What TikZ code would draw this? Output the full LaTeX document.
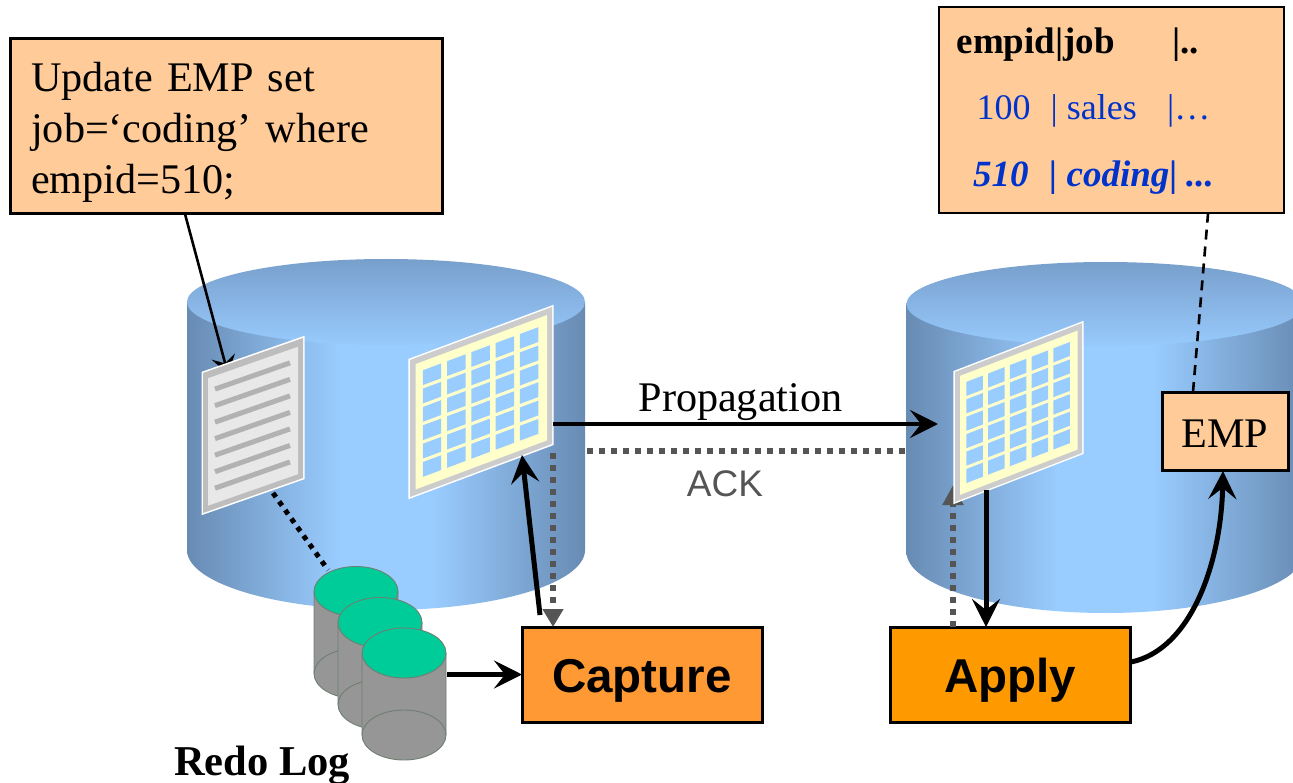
\documentclass[tikz,border=0pt]{standalone}
\usepackage{fontspec}
\setmainfont{Liberation Serif}
\setsansfont{Liberation Sans}
\usetikzlibrary{arrows.meta}
\definecolor{cyledge}{HTML}{688BB3}
\definecolor{cylmid}{HTML}{99CCFF}
\definecolor{captop}{HTML}{789FCC}
\definecolor{peach}{HTML}{FFCC99}
\definecolor{capfill}{HTML}{FF9933}
\definecolor{appfill}{HTML}{FF9900}
\definecolor{tblue}{HTML}{0033CC}
\definecolor{dgrey}{HTML}{555555}
\definecolor{logside}{HTML}{969696}
\definecolor{logtop}{HTML}{00CC99}
\definecolor{logline}{HTML}{6E7F72}
\definecolor{paleyel}{HTML}{FFFFCC}
\pgfdeclarehorizontalshading{cylshade}{100bp}{color(0bp)=(cyledge); color(25bp)=(cyledge); color(44bp)=(cylmid); color(56bp)=(cylmid); color(75bp)=(cyledge); color(100bp)=(cyledge)}
\tikzset{
  boxed/.style={draw=black,line width=3pt,inner sep=0pt,outer sep=0pt},
  serifL/.style={font=\fontsize{42.2}{51}\selectfont},
  tabletxt/.style={anchor=base west,inner sep=0pt,font=\fontsize{36}{40}\selectfont,text=tblue},
  tablebi/.style={tabletxt,font=\fontsize{37}{40}\selectfont\bfseries\itshape},
  tablehd/.style={tabletxt,text=black,font=\fontsize{37}{40}\selectfont\bfseries},
  procbox/.style={boxed,minimum width=240pt,minimum height=95pt,text height=45pt,text depth=10pt,font=\fontsize{47.5}{50}\selectfont\sffamily\bfseries},
  bigarrow/.style={line width=5pt,-{Stealth[length=28pt,width=28pt,inset=11pt]}},
  dotgrey/.style={line width=6pt,draw=dgrey,dash pattern=on 6pt off 6pt},
}
% cylinder drum: centre x, top y, half width, top ry, bottom-edge y, bottom ry
\newcommand{\drum}[6]{%
  \shade[shading=cylshade] (#1-#3,#2) -- (#1-#3,#5) arc[start angle=180,end angle=360,x radius=#3pt,y radius=#6pt] -- (#1+#3,#2) -- cycle;
  \shade[top color=captop,bottom color=cylmid!96!captop] (#1,#2) ellipse[x radius=#3pt,y radius=#4pt];
}
% four-cornered patch in the slanted panel axes
\newcommand{\patch}[5][]{\fill[#1] (#2,#3) -- (#4,#3) -- (#4,#5) -- (#2,#5) -- cycle;}
% perspective grid panel: x y of top left, width, rise, height
\newcommand{\gridpanel}[5]{%
  \begin{scope}[shift={(#1,#2)},x={(#3pt,#4pt)},y={(0pt,-#5pt)}]
    \patch[white]{-0.012}{-0.012}{1.012}{1.012}
    \patch[black!20]{0}{0}{1}{1}
    \patch[paleyel]{0.04}{0.045}{0.965}{0.96}
    \foreach \c in {0,...,4}{\foreach \r in {0,...,5}{
      \pgfmathsetmacro{\ca}{0.09+\c*0.171}
      \pgfmathsetmacro{\cb}{\ca+0.13}
      \pgfmathsetmacro{\ra}{0.11+\r*0.134}
      \pgfmathsetmacro{\rb}{\ra+0.108}
      \patch[cylmid]{\ca}{\ra}{\cb}{\rb}
    }}
  \end{scope}}
% perspective text page
\newcommand{\docpanel}[5]{%
  \begin{scope}[shift={(#1,#2)},x={(#3pt,#4pt)},y={(0pt,-#5pt)}]
    \patch[white]{-0.015}{-0.012}{1.015}{1.012}
    \patch[black!26]{0}{0}{1}{1}
    \patch[black!9]{0.05}{0.05}{0.95}{0.96}
    \foreach \r in {0,...,6}{
      \draw[black!30,line width=5pt] (0.12,{0.145+\r*0.118}) -- (0.87,{0.145+\r*0.118});
    }
  \end{scope}}
% redo log member
\newcommand{\logcyl}[2]{%
  \filldraw[fill=logside,draw=logline,line width=0.9pt] (#1-42,#2) -- (#1-42,#2+82) arc[start angle=180,end angle=360,x radius=42pt,y radius=25pt] -- (#1+42,#2) -- cycle;
  \draw[draw=logline,line width=0.9pt] (#1-42,#2+82) arc[start angle=180,end angle=0,x radius=42pt,y radius=25pt];
  \filldraw[fill=logtop,draw=logline,line width=0.9pt] (#1,#2) ellipse[x radius=42pt,y radius=25pt];
}
\begin{document}
\begin{tikzpicture}[x=1pt,y=-1pt]
\clip (0,0) rectangle (1293,783);
\fill[white] (0,0) rectangle (1293,783);

\drum{386}{302}{199}{43}{550}{60}
\drum{1105.5}{304}{199}{42}{552}{61}

% boxes
\node[boxed,fill=peach,anchor=north west,minimum width=432pt,minimum height=175pt] (update) at (10,39) {};
\node[serifL,anchor=north west,inner sep=0pt,text width=400pt,align=left] (updtxt) at (31,62)
  {Update EMP set\\job=‘coding’ where\\empid=510;};
\node[boxed,line width=2.6pt,fill=peach,anchor=north west,minimum width=345pt,minimum height=206pt] (table) at (939,7) {};
\node[tablehd] (thead) at (956.5,54) {empid|job};
\node[tablehd] (theadb) at (1172,54) {|..};
\node[tabletxt] (r1a) at (976.5,120) {100};
\node[tabletxt] (r1b) at (1050.5,120) {| sales};
\node[tabletxt] (r1c) at (1167,120) {|…};
\node[tablebi] (r2a) at (973,187) {510};
\node[tablebi] (r2b) at (1049,187) {| coding|};
\node[tablebi] (r2c) at (1186,187) {...};
\node[boxed,fill=peach,serifL,anchor=north west,minimum width=126pt,minimum height=77pt,text height=32pt,text depth=0pt] (emp) at (1162,393) {EMP};
\node[procbox,fill=capfill,anchor=north west] (capture) at (522,627) {Capture};
\node[procbox,fill=appfill,anchor=north west] (apply) at (890,627) {Apply};

% named connector ends on the panels
\coordinate (docin) at (228,374);
\coordinate (docout) at (273,493);
\coordinate (login) at (328,570);
\coordinate (g1west) at (522,455);
\coordinate (g1right) at (553,424);
\coordinate (g1down) at (553,453);
\coordinate (capfoot) at (540,615);
\coordinate (g2in) at (938,424);
\coordinate (ackr) at (905,451);
\coordinate (ackl) at (587,451);
\coordinate (g2down) at (986,490);
\coordinate (g2up) at (953,485);
\coordinate (appdown) at (986,627);
\coordinate (appup) at (953,627);
\coordinate (capup) at (553,627);
\coordinate (empbot) at (1223,471);
\coordinate (apr) at (1131,662);
\coordinate (logr) at (447,674.5);
\coordinate (updfoot) at (185,214);
\coordinate (emptop) at (1193,392);
\coordinate (tblfoot) at (1208,214);

% connectors that run behind the panels
\draw[line width=2.6pt,-{Stealth[length=18pt,width=24pt,inset=7pt]}] (updfoot) -- (docin);
\draw[dotgrey,-{Stealth[length=20pt,width=20pt,inset=0pt,fill=dgrey]}] (appup) -- (g2up);

\docpanel{203}{373}{100}{35}{140}
\gridpanel{410}{360}{142}{53}{137}
\gridpanel{955}{372}{127}{49}{130}

\draw[line width=5pt,dash pattern=on 5pt off 5.5pt] (docout) -- (login);

\logcyl{356}{591.5}
\logcyl{380}{622.5}
\logcyl{404}{653}

\draw[bigarrow] (logr) -- (capture.west);
\draw[bigarrow] (capfoot) -- (g1west);
\draw[dotgrey,-{Stealth[length=18pt,width=20pt,inset=0pt,fill=dgrey]}] (g1down) -- (capup);
\draw[line width=4.5pt,-{Stealth[length=28pt,width=28pt,inset=11pt]}] (g1right) -- (g2in);
\draw[dotgrey] (ackl) -- (ackr);
\draw[bigarrow] (g2down) -- (appdown);
\draw[bigarrow] (apr) .. controls (1190,650) and (1221,565) .. (empbot);
\draw[line width=2.6pt,dash pattern=on 10pt off 7pt] (emptop) -- (tblfoot);

\node[serifL,anchor=base,inner sep=0pt] (prop) at (740.5,411) {Propagation};
\node[anchor=base,inner sep=0pt,text=dgrey,font=\fontsize{37}{40}\selectfont\sffamily] (ack) at (725,496) {ACK};
\node[anchor=base,inner sep=0pt,font=\fontsize{42.5}{45}\selectfont\bfseries] (redolbl) at (262,775) {Redo Log};
\end{tikzpicture}
\end{document}
